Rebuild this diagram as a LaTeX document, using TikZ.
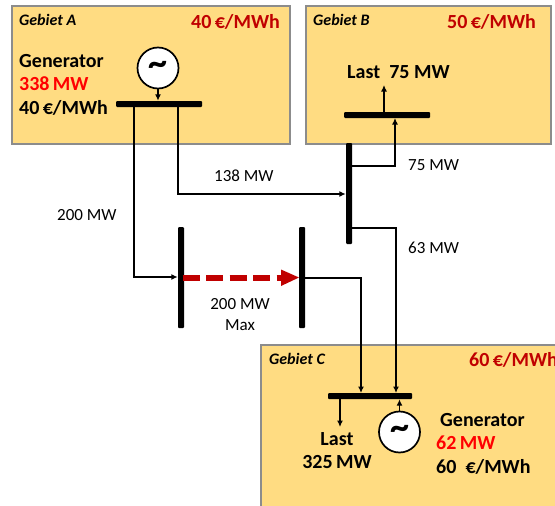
\documentclass[tikz,border=0pt]{standalone}
\usepackage{fontspec}
\setmainfont{Carlito}
\usetikzlibrary{arrows.meta,calc}
\definecolor{zone}{HTML}{FFDC82}
\definecolor{zoneedge}{HTML}{8C8C8C}
\definecolor{darkred}{HTML}{C00000}
\tikzset{
  zonebox/.style={fill=zone,draw=zoneedge,line width=2pt},
  busbar/.style={fill=black,draw=none,rounded corners=1pt,inner sep=0pt},
  gen/.style={circle,draw=black,line width=1.7pt,fill=white,minimum size=41pt,inner sep=0pt,font=\fontsize{38}{38}\selectfont\bfseries},
  flow/.style={draw=black,line width=1.6pt,-{Latex[length=6.5pt,width=6pt]}},
  zonename/.style={anchor=base west,inner sep=0pt,font=\fontsize{16}{18}\selectfont\bfseries\itshape},
  price/.style={anchor=base west,inner sep=0pt,text=darkred,font=\fontsize{20}{22}\selectfont\bfseries},
  big/.style={anchor=base west,inner sep=0pt,font=\fontsize{20}{22}\selectfont\bfseries},
  bigred/.style={big,text=red},
  small/.style={anchor=base west,inner sep=0pt,font=\fontsize{17}{20}\selectfont},
}
\begin{document}
\begin{tikzpicture}[x=1pt,y=-1pt]
\useasboundingbox (0,0) rectangle (555,506);
\clip (0,0) rectangle (555,506);
% zones
\draw[zonebox] (12,6) rectangle (290,144);
\draw[zonebox] (306,6) rectangle (551,144);
\draw[zonebox] (261,345) rectangle (570,520);
% buses
\node[busbar,minimum width=86pt,minimum height=6pt] (busA) at (159,104) {};
\node[busbar,minimum width=86pt,minimum height=6pt] (busB) at (387,115) {};
\node[busbar,minimum width=84pt,minimum height=6pt] (busC) at (370,396) {};
\node[busbar,minimum width=6pt,minimum height=101pt] (busM) at (349,193.5) {};
\node[busbar,minimum width=6pt,minimum height=101pt] (busL) at (181,277.5) {};
\node[busbar,minimum width=6pt,minimum height=101pt] (busR) at (302,277.5) {};
% generators
\node[gen] (genA) at (158,68) {\textasciitilde};
\node[gen] (genC) at (399.5,432) {\textasciitilde};
% free ends
\coordinate (loadB) at (384,85);
\coordinate (loadC) at (340,427);
% connectors
\draw[flow] (genA.south) -- (genA.south |- busA.north);
\draw[flow] (134,107) |- (busL.west |- 0,277);
\draw[flow] (178,107) |- (busM.west |- 0,194);
\draw[flow] (busM.east |- 0,166) -| (395,118);
\draw[flow] (busM.east |- 0,228) -| (396,393);
\draw[flow] (busR.east |- 0,278) -| (361,393);
\draw[flow] (loadB |- busB.north) -- (loadB);
\draw[flow] (loadC |- busC.south) -- (loadC);
\draw[flow] (genC.north) -- (genC.north |- busC.south);
\draw[darkred,line width=6pt,dash pattern=on 17pt off 6.5pt] (182.5,277.5) -- (284,277.5);
\fill[darkred] (281,269.5) -- (299,277.5) -- (281,286) -- cycle;
% zone A text
\node[zonename] (nameA) at (19,26) {Gebiet A};
\node[price] (priceA) at (191,28) {40\,€/MWh};
\node[big] (genAa) at (19,67) {Generator};
\node[bigred] (genAb) at (19,90) {338\,MW};
\node[big] (genAc) at (19,114) {40\,€/MWh};
% zone B text
\node[zonename] (nameB) at (313,26) {Gebiet B};
\node[price] (priceB) at (447,28) {50\,€/MWh};
\node[big] (lastB) at (347,78) {Last\ \ 75 MW};
% zone C text
\node[zonename] (nameC) at (269,364) {Gebiet C};
\node[price] (priceC) at (469,366) {60\,€/MWh};
\node[big] (genCa) at (440,426) {Generator};
\node[bigred] (genCb) at (436,449) {62\,MW};
\node[big] (genCc) at (436,473) {60\ \ €/MWh};
\node[big,anchor=base] (lastCa) at (337,445) {Last};
\node[big,anchor=base] (lastCb) at (337,468) {325\,MW};
% flow labels
\node[small] (f138) at (214,181) {138 MW};
\node[small] (f75) at (408,170) {75 MW};
\node[small] (f63) at (408,253) {63 MW};
\node[small] (f200) at (57,220) {200 MW};
\node[small,anchor=base] (fmax) at (240,309) {200 MW};
\node[small,anchor=base] (fmaxb) at (240,330) {Max};
\end{tikzpicture}
\end{document}
